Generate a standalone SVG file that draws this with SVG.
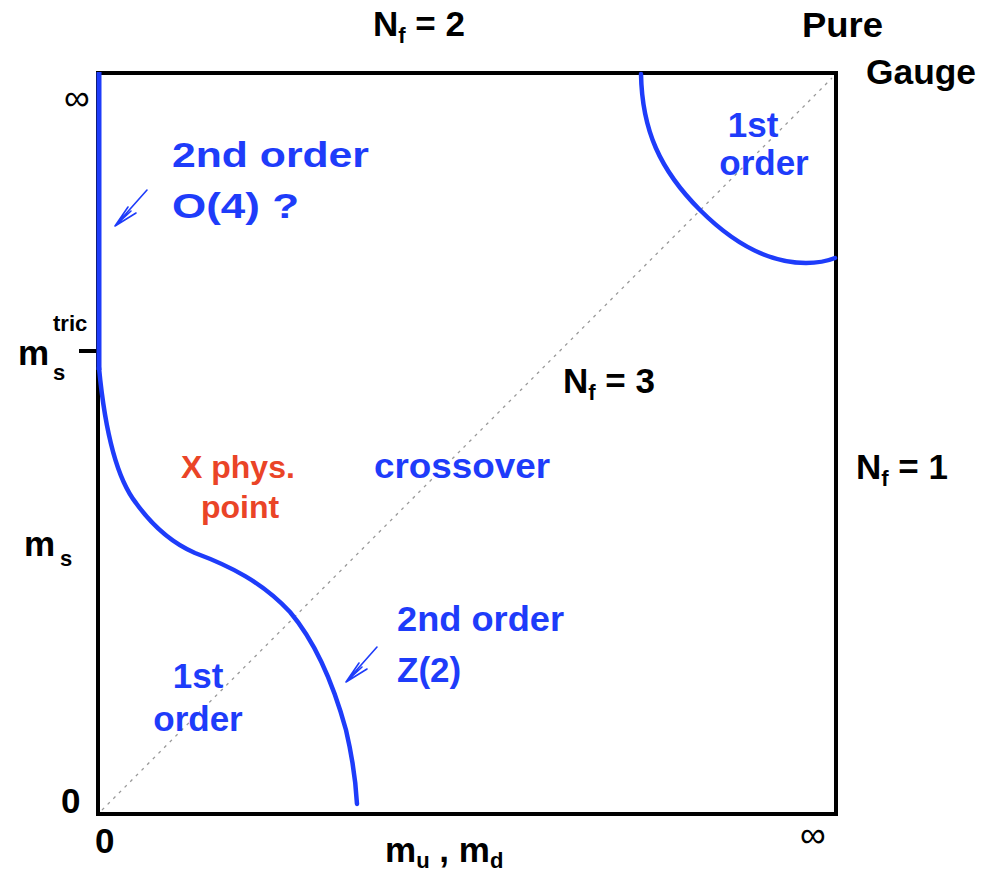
<svg xmlns="http://www.w3.org/2000/svg" width="982" height="873" viewBox="0 0 982 873">
<style>
text{font-family:"Liberation Sans",Arial,sans-serif;font-weight:bold}
.k{fill:#000}
.b{fill:#1e3cfa}
.r{fill:#ea4427}
.big{font-size:35px}
.sub{font-size:22px}
.curve{fill:none;stroke:#1e3cfa;stroke-width:4.5;stroke-linecap:round}
.arr{fill:none;stroke:#1e3cfa;stroke-width:1.6;stroke-linecap:round}
</style>
<rect width="982" height="873" fill="#fff"/>
<g id="frame">
<path d="M98,73 H836 V814 H98 Z" fill="none" stroke="#000" stroke-width="4"/>
<line x1="79" y1="351" x2="98" y2="351" stroke="#000" stroke-width="4"/>
<line x1="102" y1="810" x2="832" y2="78" stroke="#999" stroke-width="1.3" stroke-dasharray="3,5"/>
</g>
<g id="connectors">
<line x1="99" y1="72" x2="99" y2="370" stroke="#1e3cfa" stroke-width="5"/>
<path class="curve" d="M99,368 C104,420 114,475 136,503 C154,528 172,543 195,553 C230,566 262,582 290,612 C318,645 335,690 346,730 C353,760 356,785 357,804"/>
<path class="curve" d="M641,74 C642,130 660,170 700,210 C735,245 770,263 806,263 C820,263 830,260 835,258"/>
<path class="arr" d="M147,190 L115,226 M115,226 L128,207 M115,226 L136,213 M115,226 L131,211"/>
<path class="arr" d="M377,647 L346,682 M346,682 L359,663 M346,682 L367,669 M346,682 L362,667"/>
</g>
<g id="labels">
<text class="k big" x="373" y="36">N<tspan class="sub" dy="7">f</tspan><tspan dy="-7"> = 2</tspan></text>
<text class="k big" x="802" y="37" textLength="81" lengthAdjust="spacingAndGlyphs">Pure</text>
<text class="k big" x="866" y="84" textLength="110" lengthAdjust="spacingAndGlyphs">Gauge</text>
<text class="k" x="64" y="110" style="font-size:36px;font-weight:normal">∞</text>
<text class="b big" x="172" y="167" textLength="197" lengthAdjust="spacingAndGlyphs">2nd order</text>
<text class="b big" x="172" y="218" textLength="127" lengthAdjust="spacingAndGlyphs">O(4) ?</text>
<text class="b big" x="753" y="137" text-anchor="middle">1st</text>
<text class="b big" x="764" y="175" text-anchor="middle">order</text>
<text class="k big" x="18" y="365">m</text>
<text class="k sub" x="53" y="331">tric</text>
<text class="k sub" x="53" y="380">s</text>
<text class="k big" x="563" y="393">N<tspan class="sub" dy="7">f</tspan><tspan dy="-7"> = 3</tspan></text>
<text class="k big" x="856" y="479">N<tspan class="sub" dy="7">f</tspan><tspan dy="-7"> = 1</tspan></text>
<text class="r" x="181" y="478" style="font-size:32px">X phys.</text>
<text class="r" x="240" y="518" style="font-size:32px" text-anchor="middle">point</text>
<text class="b big" x="374" y="478" textLength="176" lengthAdjust="spacingAndGlyphs">crossover</text>
<text class="k big" x="24" y="556">m</text>
<text class="k sub" x="60" y="566">s</text>
<text class="b big" x="397" y="631" textLength="167" lengthAdjust="spacingAndGlyphs">2nd order</text>
<text class="b big" x="397" y="682">Z(2)</text>
<text class="b big" x="198" y="688" text-anchor="middle">1st</text>
<text class="b big" x="198" y="731" text-anchor="middle">order</text>
<text class="k big" x="61" y="813">0</text>
<text class="k big" x="95" y="853">0</text>
<text class="k big" x="385" y="862">m<tspan class="sub" dy="6">u</tspan><tspan dy="-6"> , m</tspan><tspan class="sub" dy="6">d</tspan></text>
<text class="k" x="800" y="847" style="font-size:36px;font-weight:normal">∞</text>
</g>
</svg>
